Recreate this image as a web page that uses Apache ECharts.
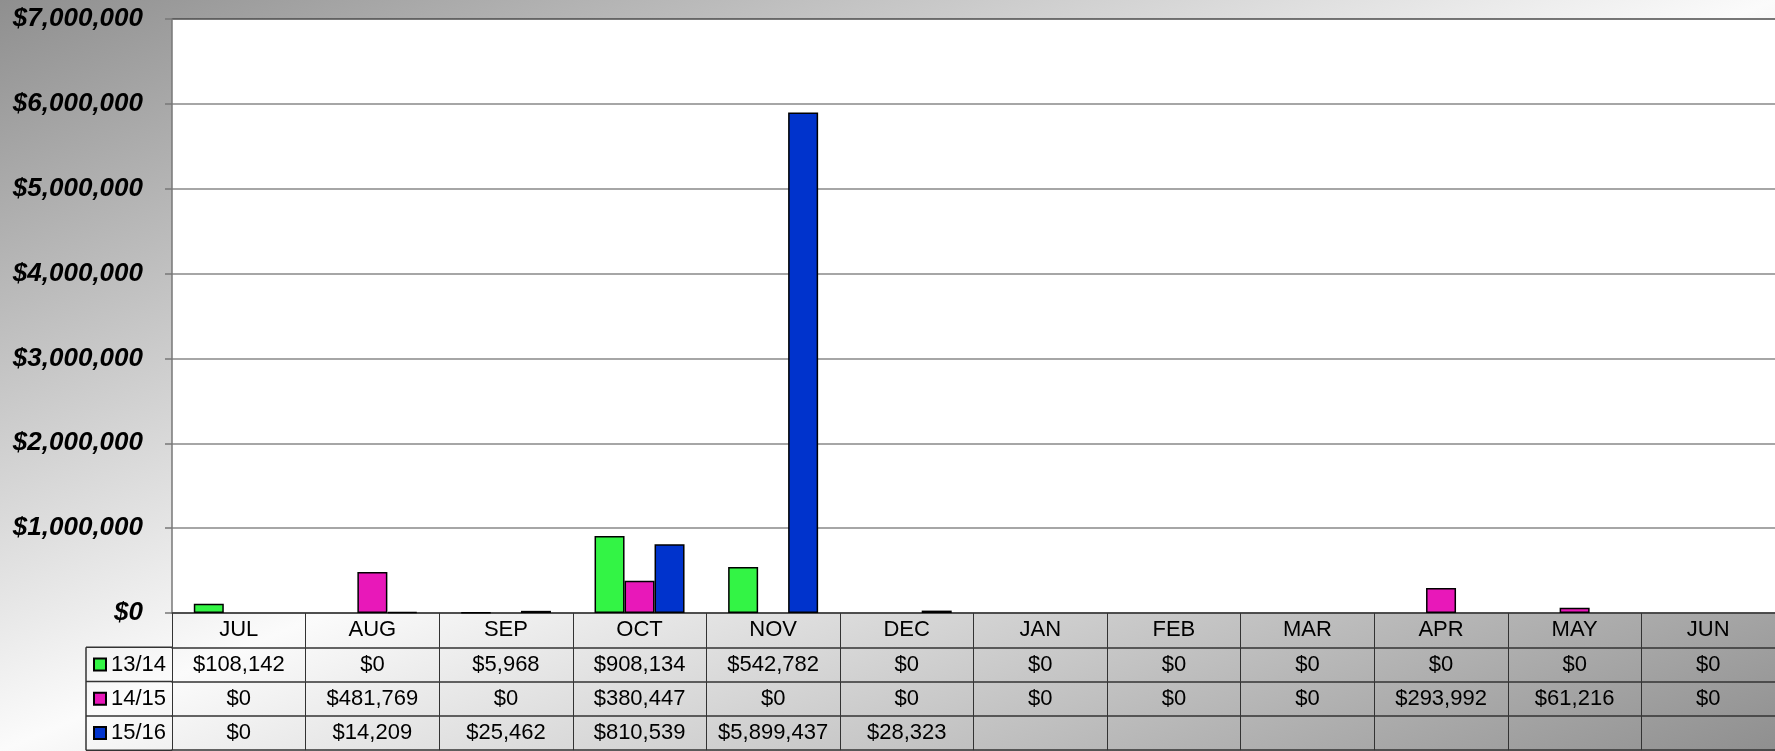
<!DOCTYPE html>
<html>
<head>
<meta charset="utf-8">
<script src="https://cdn.jsdelivr.net/npm/echarts@6/dist/echarts.min.js"></script>
<style>
html, body { margin: 0; padding: 0; }
#chart_content {
    width: 1775px;
    height: 751px;
    background: linear-gradient(to bottom right, #8f8f8f 0%, #fbfbfb 50%, #8f8f8f 100%);
}
</style>
</head>
<body>
<div id="chart_content"></div>
<script>
// data
var months = ['JUL', 'AUG', 'SEP', 'OCT', 'NOV', 'DEC', 'JAN', 'FEB', 'MAR', 'APR', 'MAY', 'JUN'];
var seriesNames = ['13/14', '14/15', '15/16'];
var fy1314 = [108142, 0, 5968, 908134, 542782, 0, 0, 0, 0, 0, 0, 0];
var fy1415 = [0, 481769, 0, 380447, 0, 0, 0, 0, 0, 293992, 61216, 0];
var fy1516 = [0, 14209, 25462, 810539, 5899437, 28323, null, null, null, null, null, null];
var seriesColors = ['#33f445', '#e818b9', '#0033cc'];

// layout
var gridLeft = 172, gridTop = 19, gridBottom = 138;
var rowH = 34.3;
var tableLeft = 86;

function money(v){
    if (v === null || v === undefined) return '';
    return '$' + String(v).replace(/\B(?=(\d{3})+(?!\d))/g, ',');
}

function ClaimsChart(){

}
ClaimsChart.prototype.init = function(){
    this.loadChart();
}
ClaimsChart.prototype.loadChart = function(){
    var dom = document.getElementById('chart_content');
    var chartInstance = echarts.init(dom);
    var allRows = [fy1314, fy1415, fy1516];
    var zeroY = 751 - gridBottom;

    // table rows are extra x axes under the plot
    var rowAxis = function(labels, k){
        return {
            type: 'category',
            gridIndex: 0,
            position: 'bottom',
            offset: k * rowH,
            data: labels,
            axisLine: { show: true, lineStyle: { color: '#333', width: 1.5 } },
            axisTick: { show: true, interval: 0, length: rowH, lineStyle: { color: '#333', width: 1 } },
            axisLabel: {
                interval: 0,
                margin: rowH / 2,
                verticalAlign: 'middle',
                color: '#000',
                fontSize: 22,
                fontFamily: 'Liberation Sans, Arial, sans-serif'
            },
            axisPointer: { show: false }
        };
    };
    var xAxes = [rowAxis(months, 0)];
    for (var i = 0; i < allRows.length; i++) {
        xAxes.push(rowAxis(allRows[i].map(money), i + 1));
    }
    var bottomAxis = rowAxis(months.map(function(){ return ''; }), 4);
    bottomAxis.axisTick = { show: false };
    xAxes.push(bottomAxis);

    var series = allRows.map(function(row, i){
        return {
            name: seriesNames[i],
            type: 'bar',
            xAxisIndex: 0,
            barWidth: 30,
            barGap: '0%',
            data: row.map(function(v){ return v === 0 ? '-' : v; }),
            itemStyle: {
                color: seriesColors[i],
                borderColor: '#000',
                borderWidth: 1.5
            }
        };
    });

    // legend column border lines
    var graphics = [];
    for (var k = 1; k <= 4; k++) {
        graphics.push({
            type: 'line',
            shape: { x1: tableLeft, y1: zeroY + k * rowH, x2: gridLeft, y2: zeroY + k * rowH },
            style: { stroke: '#333', lineWidth: 1.5 }
        });
    }
    graphics.push({
        type: 'line',
        shape: { x1: tableLeft, y1: zeroY + rowH, x2: tableLeft, y2: zeroY + 4 * rowH },
        style: { stroke: '#333', lineWidth: 1.5 }
    });

    var splitColors = ['#888', '#888', '#888', '#888', '#888', '#888', '#888', '#4a4a4a'];

    var option = {
        animation: false,
        color: seriesColors,
        grid: {
            left: gridLeft,
            right: 0,
            top: gridTop,
            bottom: gridBottom,
            outerBoundsMode: 'none',
            containLabel: false,
            show: true,
            backgroundColor: '#fff',
            borderWidth: 0
        },
        legend: {
            orient: 'vertical',
            left: 93,
            top: zeroY + rowH,
            padding: 0,
            itemGap: 0,
            itemWidth: 12,
            itemHeight: 12,
            icon: 'rect',
            selectedMode: false,
            data: seriesNames,
            textStyle: {
                color: '#000',
                fontSize: 22,
                lineHeight: rowH,
                fontFamily: 'Liberation Sans, Arial, sans-serif'
            }
        },
        xAxis: xAxes,
        yAxis: [{
            type: 'value',
            min: 0,
            max: 7000000,
            interval: 1000000,
            axisLine: { show: true, lineStyle: { color: '#777', width: 1.5 } },
            axisTick: { show: true, length: 7, lineStyle: { color: '#777', width: 1.5 } },
            axisLabel: {
                formatter: money,
                margin: 29,
                color: '#000',
                fontSize: 26,
                fontWeight: 'bold',
                fontStyle: 'italic',
                fontFamily: 'Liberation Sans, Arial, sans-serif'
            },
            splitLine: {
                lineStyle: { color: splitColors, width: 1.5 }
            }
        }],
        graphic: graphics,
        series: series
    };
    chartInstance.setOption(option, true);
    window.onresize = function(){
        chartInstance.resize();
    }
}
var start_chart = new ClaimsChart();
start_chart.init();
</script>
</body>
</html>
